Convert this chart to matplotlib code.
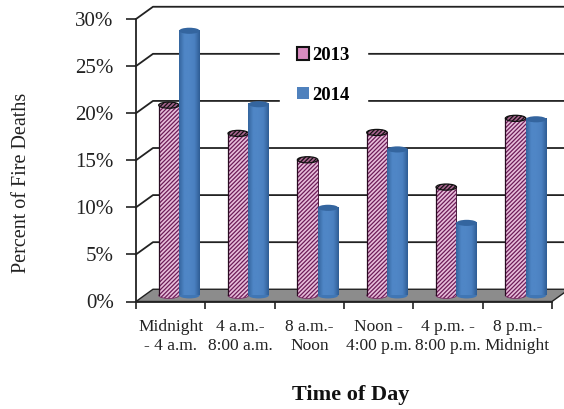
# Percent of fire deaths by time of day, fake 3D cylinder columns
import numpy as np
import matplotlib
matplotlib.use('Agg')
import matplotlib.pyplot as plt
from matplotlib.colors import LinearSegmentedColormap
from matplotlib.patches import Ellipse, Patch, Polygon

categories = ['Midnight\n- 4 a.m.', '4 a.m.-\n8:00 a.m.', '8 a.m.-\nNoon',
              'Noon -\n4:00 p.m.', '4 p.m. -\n8:00 p.m.', '8 p.m.-\nMidnight']
values_2013 = [20.2, 17.2, 14.4, 17.3, 11.5, 18.8]
values_2014 = [28.1, 20.3, 9.3, 15.5, 7.7, 18.7]
y_ticks = [0, 5, 10, 15, 20, 25, 30]

plt.rcParams['font.family'] = ['Liberation Serif', 'DejaVu Serif']
plt.rcParams['hatch.linewidth'] = 0.9

W, H = 564, 409
fig = plt.figure(figsize=(W / 100, H / 100), dpi=100)
ax = fig.add_axes([136 / W, 1 - 301.5 / H, 416 / W, 282.5 / H])

n = len(categories)
depth_x = 0.245
depth_y = 1.3
bar_w = 0.295
cap_h = 0.65

# floor and back wall lines
ax.add_patch(Polygon([(0, 0), (n, 0), (n + depth_x, depth_y), (depth_x, depth_y)],
                     closed=True, facecolor='#8c8c8c', edgecolor='#222222',
                     linewidth=1, zorder=1, clip_on=False))
for t in y_ticks[1:]:
    ax.plot([0, depth_x, n + depth_x], [t, t + depth_y, t + depth_y],
            color='#222222', lw=1.3, zorder=1, clip_on=False)

blue_map = LinearSegmentedColormap.from_list(
    'blue', ['#35659e', '#4f86c6', '#4f86c6', '#4a80c0', '#2f5d94'])
gradient = np.linspace(0, 1, 64).reshape(1, -1)

for i in range(n):
    center = i + 0.5 + depth_x / 2
    base = depth_y / 2

    # 2013: hatched cylinder
    x13 = center - bar_w
    v = values_2013[i] + base
    ax.add_patch(Ellipse((x13 + bar_w / 2, base), bar_w, cap_h, facecolor='#e3b3d3',
                         edgecolor='#6d1c58', lw=0.5, hatch='////////', zorder=3))
    ax.bar(x13, values_2013[i], bar_w, bottom=base, align='edge', color='#e8bfdb',
           edgecolor='#6d1c58', hatch='////////', linewidth=0, zorder=3)
    ax.plot([x13, x13], [base, v], color='#2a0c22', lw=0.9, zorder=3)
    ax.plot([x13 + bar_w, x13 + bar_w], [base, v], color='#4a1a3e', lw=0.7, zorder=3)
    ax.add_patch(Ellipse((x13 + bar_w / 2, v), bar_w, cap_h, facecolor='#a8648f',
                         edgecolor='#111111', lw=0.9, hatch='////////', zorder=4))

    # 2014: blue cylinder with shading across it
    x14 = center
    v = values_2014[i] + base
    ax.add_patch(Ellipse((x14 + bar_w / 2, base), bar_w, cap_h, facecolor='#4076b4',
                         edgecolor='none', zorder=5))
    ax.imshow(gradient, cmap=blue_map, extent=[x14, x14 + bar_w, base, v],
              aspect='auto', zorder=5)
    ax.add_patch(Ellipse((x14 + bar_w / 2, v), bar_w, cap_h, facecolor='#34659f',
                         edgecolor='none', zorder=6))

ax.set_xlim(0, n)
ax.set_ylim(0, 30)
ax.set_xticks(np.arange(n + 1))
ax.set_xticklabels([])
ax.set_xticks(np.arange(n) + 0.5, categories, minor=True)
ax.set_yticks(y_ticks, [str(t) + '%' for t in y_ticks])
ax.tick_params(axis='y', labelsize=15, length=7, width=1.2, pad=9, colors='#222222')
ax.tick_params(axis='x', which='major', length=5, width=1.2, colors='#222222')
ax.tick_params(axis='x', which='minor', length=0, labelsize=12.5, pad=12.5, colors='#222222')
for lab in ax.get_xticklabels(minor=True):
    lab.set_linespacing(1.3)
ax.patch.set_visible(False)
for s in ['top', 'right']:
    ax.spines[s].set_visible(False)
for s in ['left', 'bottom']:
    ax.spines[s].set_linewidth(1.3)
    ax.spines[s].set_color('#222222')
    ax.spines[s].set_zorder(7)

ax.set_ylabel('Percent of Fire Deaths', fontsize=14.5, color='#222222')
ax.set_xlabel('Time of Day', fontsize=16, fontweight='bold', color='#111111')
ax.xaxis.set_label_coords((351 - 136) / 416, -(395 - 301.5) / 282.5)
ax.xaxis.label.set_va('center')
ax.yaxis.set_label_coords((22 - 136) / 416, (301.5 - 183) / 282.5)
ax.yaxis.label.set_va('center')

# legend sits on a white box which breaks the gridlines
handles = [Patch(facecolor='#d98cc0', edgecolor='#111111', linewidth=1.5),
           Patch(facecolor='#4f81bd', edgecolor='none')]
leg = ax.legend(handles, ['2013', '2014'], loc='center',
                bbox_to_anchor=((323.5 - 136) / 416, (301.5 - 75.5) / 282.5),
                frameon=True, fancybox=False, framealpha=1, edgecolor='white',
                facecolor='white', labelspacing=1.22, handlelength=0.62, handleheight=0.62,
                handletextpad=0.18, borderpad=0.9, borderaxespad=0,
                prop={'size': 13.5, 'weight': 'bold'})
leg.set_zorder(2)

fig.savefig('out.png', dpi=100)
